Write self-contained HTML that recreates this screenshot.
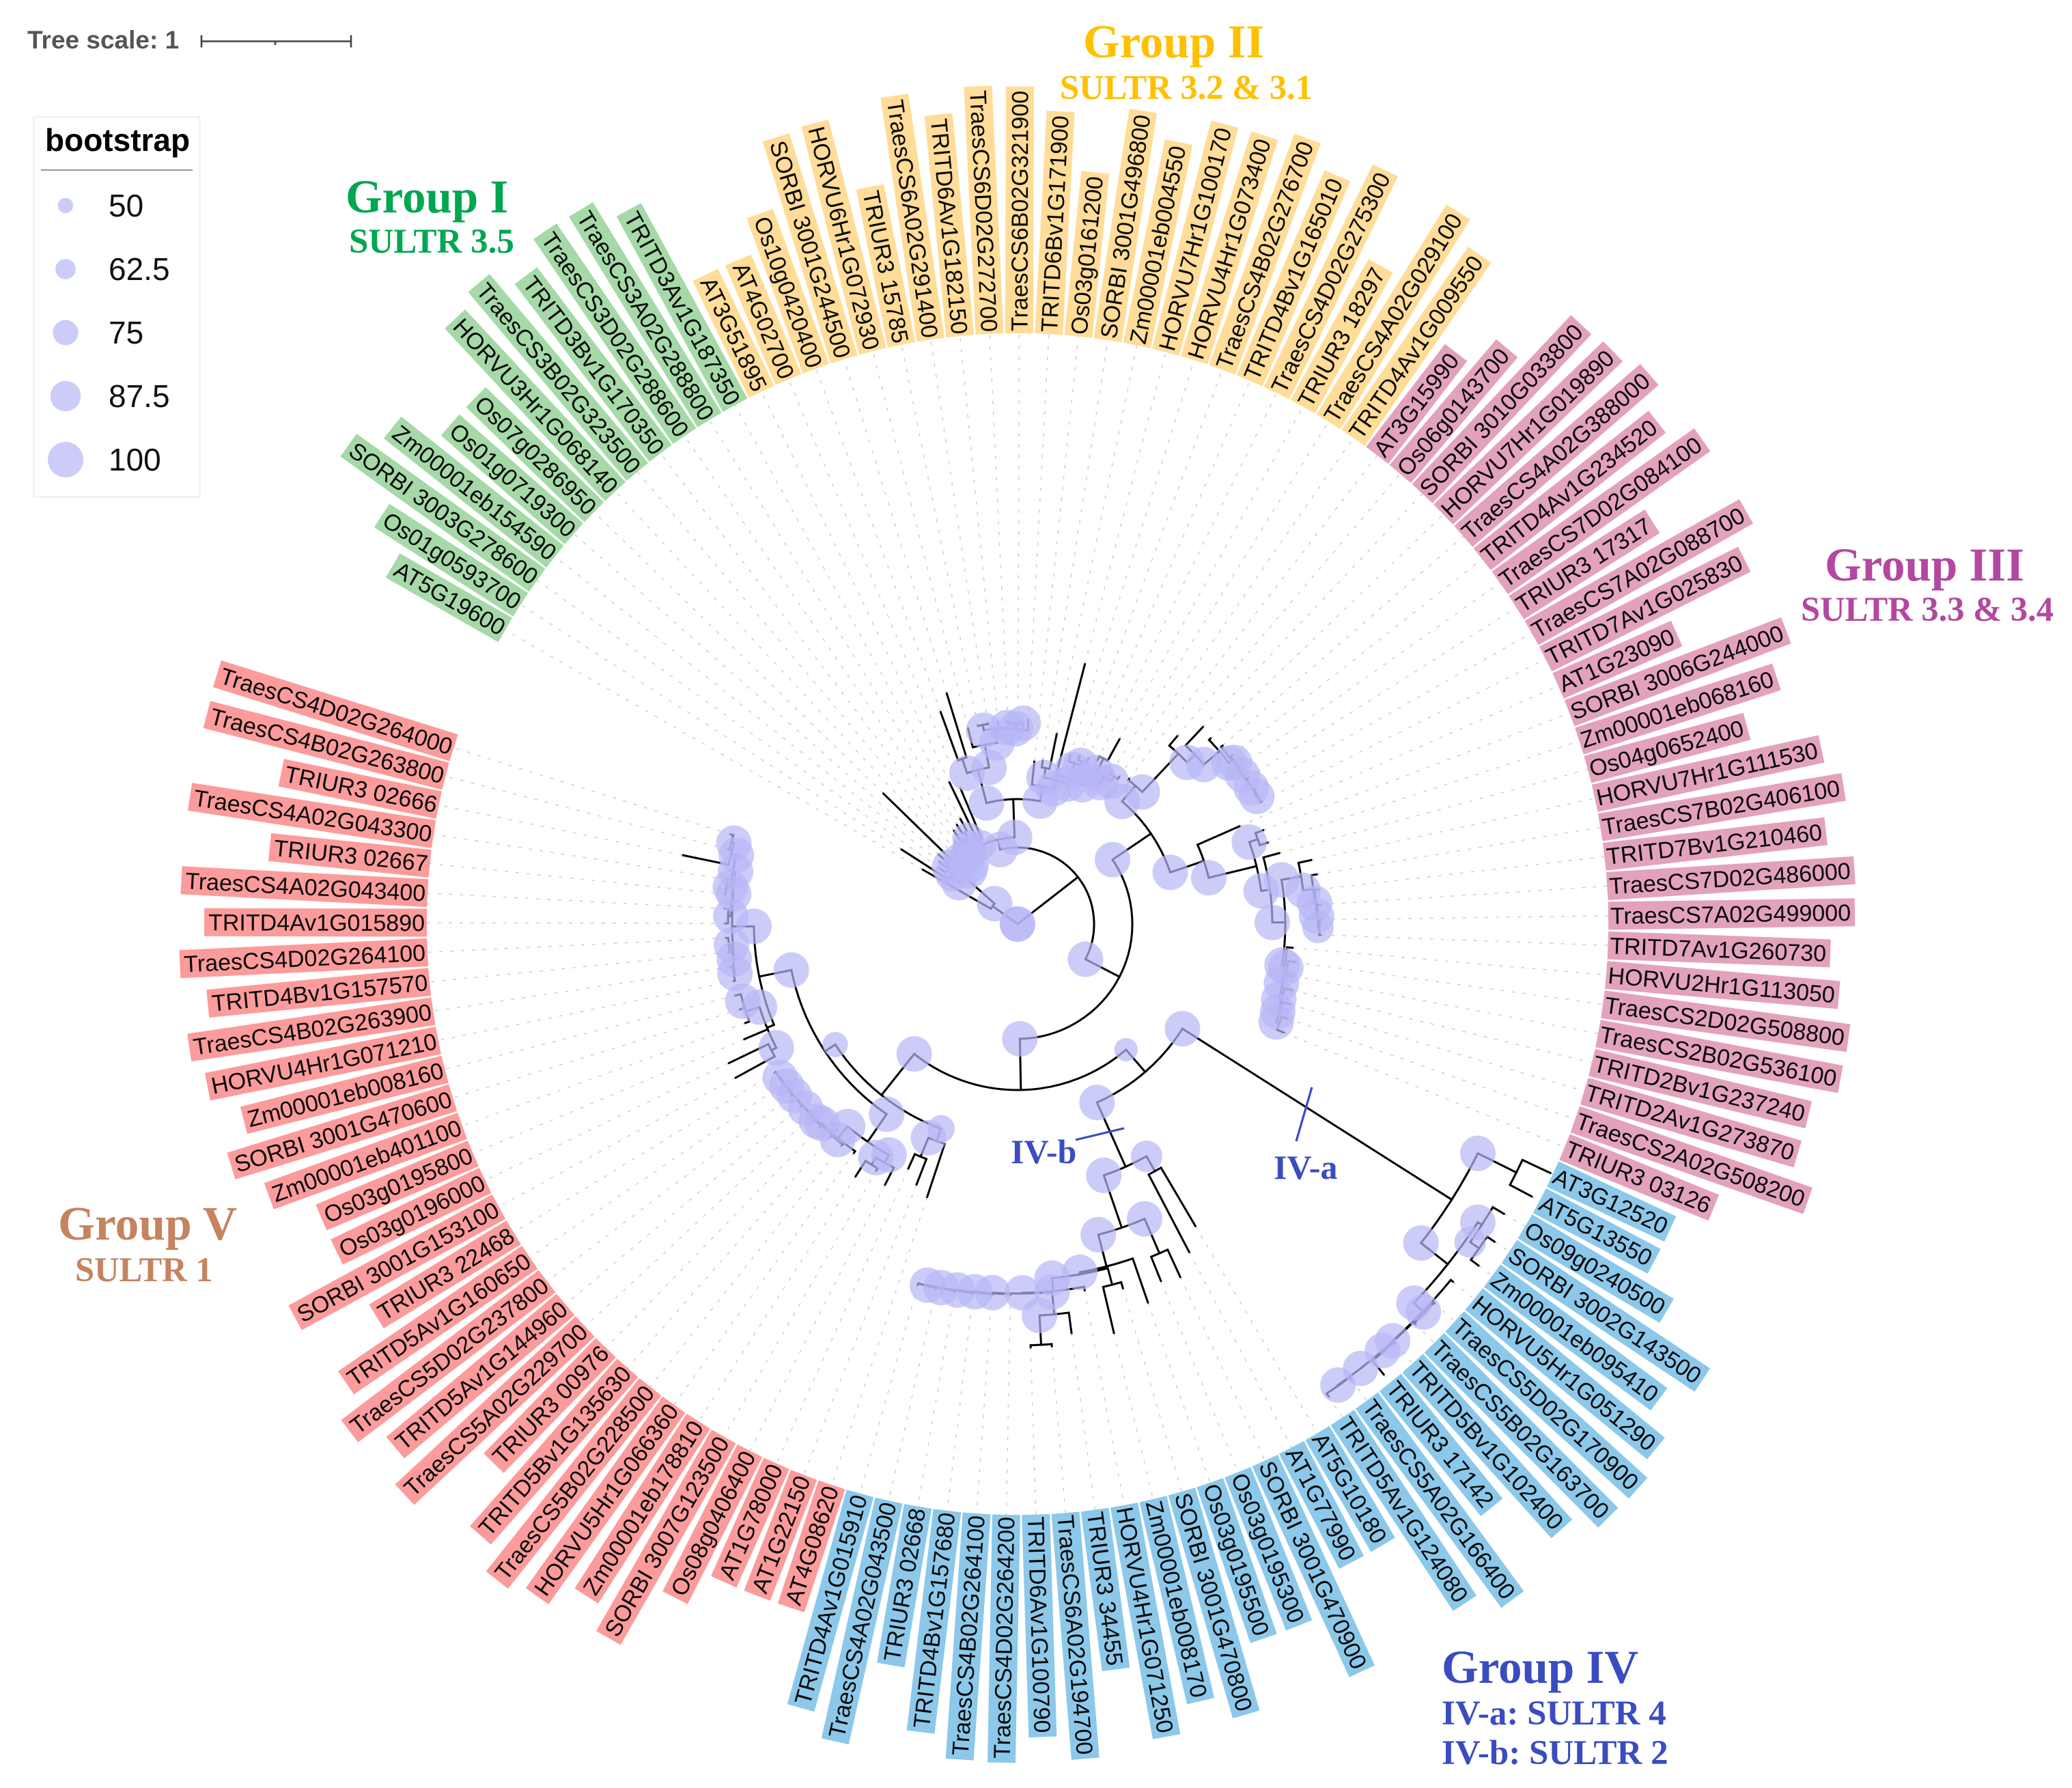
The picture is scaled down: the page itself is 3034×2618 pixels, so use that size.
<!DOCTYPE html>
<html lang="en">
<head>
<meta charset="utf-8">
<title>SULTR phylogenetic tree</title>
<style>
html,body{margin:0;padding:0;background:#fff;}
svg{display:block;}
.leaf-label{font-family:"Liberation Sans",sans-serif;font-size:34px;fill:#0a0a0a;}
.title{font-family:"Liberation Serif",serif;font-weight:bold;}
.legend-text{font-family:"Liberation Sans",sans-serif;font-size:46px;fill:#111;}
</style>
</head>
<body>
<svg id="chart" xmlns="http://www.w3.org/2000/svg" width="3034" height="2618" viewBox="0 0 3034 2618">
  <rect x="0" y="0" width="3034" height="2618" fill="#ffffff"/>
  <g id="dots"></g>
  <g id="branches"></g>
  <g id="bubbles"></g>
  <g id="labels"></g>

  <g>
    <text x="40" y="71" font-family="Liberation Sans, sans-serif" font-weight="bold" font-size="37" fill="#555">Tree scale: 1</text>
    <path d="M295 60.5H514M295 51.5V69.5M514 51.5V69.5M403 60.5V66" stroke="#444" stroke-width="2.6" fill="none"/>
  </g>

  <g>
    <rect x="49.5" y="171.5" width="243" height="556" fill="#fff" stroke="#eeeeee" stroke-width="2"/>
    <text x="66" y="221" font-family="Liberation Sans, sans-serif" font-weight="bold" font-size="46" fill="#000">bootstrap</text>
    <line x1="60" y1="249" x2="282" y2="249" stroke="#999" stroke-width="2"/>
    <g id="legend"></g>
  </g>

  <g fill="#00a650" class="title">
    <text x="506" y="311" font-size="69">Group I</text>
    <text x="511" y="370" font-size="51">SULTR 3.5</text>
  </g>
  <g fill="#ffc000" class="title">
    <text x="1586" y="84" font-size="69">Group II</text>
    <text x="1552" y="145" font-size="50.5">SULTR 3.2 &amp; 3.1</text>
  </g>
  <g fill="#b4479f" class="title">
    <text x="2672" y="850" font-size="69">Group III</text>
    <text x="2637" y="909" font-size="50.5">SULTR 3.3 &amp; 3.4</text>
  </g>
  <g fill="#3a4cc0" class="title">
    <text x="2111" y="2464" font-size="69">Group IV</text>
    <text x="2111" y="2525" font-size="51">IV-a: SULTR 4</text>
    <text x="2111" y="2583" font-size="51">IV-b: SULTR 2</text>
  </g>
  <g fill="#c5835f" class="title">
    <text x="85" y="1815" font-size="69.5">Group V</text>
    <text x="110" y="1876" font-size="50.5">SULTR 1</text>
  </g>
  <g fill="#3a4cc0" class="title">
    <line x1="1921" y1="1592" x2="1898" y2="1671" stroke="#3a4cc0" stroke-width="3.2"/>
    <line x1="1575" y1="1669" x2="1646" y2="1652" stroke="#3a4cc0" stroke-width="3.2"/>
    <text x="1865" y="1726" font-size="50">IV-a</text>
    <text x="1480" y="1703" font-size="50">IV-b</text>
  </g>
</svg>
<script>
// ---- chart data ----
const leafLabelsGroup1 = ["AT5G19600","Os01g0593700","SORBI 3003G278600","Zm00001eb154590","Os01g0719300","Os07g0286950","HORVU3Hr1G068140","TraesCS3B02G323500","TRITD3Bv1G170350","TraesCS3D02G288600","TraesCS3A02G288800","TRITD3Av1G187350"];
const leafLabelsGroup2 = ["AT3G51895","AT4G02700","Os10g0420400","SORBI 3001G244500","HORVU6Hr1G072930","TRIUR3 15785","TraesCS6A02G291400","TRITD6Av1G182150","TraesCS6D02G272700","TraesCS6B02G321900","TRITD6Bv1G171900","Os03g0161200","SORBI 3001G496800","Zm00001eb004550","HORVU7Hr1G100170","HORVU4Hr1G073400","TraesCS4B02G276700","TRITD4Bv1G165010","TraesCS4D02G275300","TRIUR3 18297","TraesCS4A02G029100","TRITD4Av1G009550"];
const leafLabelsGroup3 = ["AT3G15990","Os06g0143700","SORBI 3010G033800","HORVU7Hr1G019890","TraesCS4A02G388000","TRITD4Av1G234520","TraesCS7D02G084100","TRIUR3 17317","TraesCS7A02G088700","TRITD7Av1G025830","AT1G23090","SORBI 3006G244000","Zm00001eb068160","Os04g0652400","HORVU7Hr1G111530","TraesCS7B02G406100","TRITD7Bv1G210460","TraesCS7D02G486000","TraesCS7A02G499000","TRITD7Av1G260730","HORVU2Hr1G113050","TraesCS2D02G508800","TraesCS2B02G536100","TRITD2Bv1G237240","TRITD2Av1G273870","TraesCS2A02G508200","TRIUR3 03126"];
const leafLabelsGroup4 = ["AT3G12520","AT5G13550","Os09g0240500","SORBI 3002G143500","Zm00001eb095410","HORVU5Hr1G051290","TraesCS5D02G170900","TraesCS5B02G163700","TRITD5Bv1G102400","TRIUR3 17142","TraesCS5A02G166400","TRITD5Av1G124080","AT5G10180","AT1G77990","SORBI 3001G470900","Os03g0195300","Os03g0195500","SORBI 3001G470800","Zm00001eb008170","HORVU4Hr1G071250","TRIUR3 34455","TraesCS6A02G194700","TRITD6Av1G100790","TraesCS4D02G264200","TraesCS4B02G264100","TRITD4Bv1G157680","TRIUR3 02668","TraesCS4A02G043500","TRITD4Av1G015910"];
const leafLabelsGroup5 = ["AT4G08620","AT1G22150","AT1G78000","Os08g0406400","SORBI 3007G123500","Zm00001eb178810","HORVU5Hr1G066360","TraesCS5B02G228500","TRITD5Bv1G135630","TRIUR3 00976","TraesCS5A02G229700","TRITD5Av1G144960","TraesCS5D02G237800","TRITD5Av1G160650","TRIUR3 22468","SORBI 3001G153100","Os03g0196000","Os03g0195800","Zm00001eb401100","SORBI 3001G470600","Zm00001eb008160","HORVU4Hr1G071210","TraesCS4B02G263900","TRITD4Bv1G157570","TraesCS4D02G264100","TRITD4Av1G015890","TraesCS4A02G043400","TRIUR3 02667","TraesCS4A02G043300","TRIUR3 02666","TraesCS4B02G263800","TraesCS4D02G264000"];
const groupFills = ["#a5d9a7","#ffdc98","#e3a2bc","#8cc8ea","#fc9b9b"];
const legendValues = [50,62.5,75,87.5,100];

// Clades: a leaf is its tip depth (number); an internal node is [depth, bootstrap, ...children].
const cladeGroup1 = [45,100,160,[105,100,[120,100,202,[130,100,141,[135,100,146,154]]],[110,100,274,[125,100,[135,100,135,140],[135,100,150,[145,90,165,[155,90,170,175]]]]]]];
const cladeGroup2Base = [135,85,230,215];
const cladeGroup2Left = [233,100,[255,100,330,353],[267,100,295,[288,100,[296,100,296,297],[286,100,297,[294,100,298,[284,100,298,299]]]]]];
const cladeGroup2Right = [205,100,239,[218,100,[232,100,242,284],[225,100,393,[240,100,[250,100,258,[256,100,262,264]],[250,100,[273,100,266,309],[258,100,262,262]]]]]];
const cladeGroup3Upper = [266,100,268,[343,100,361,[359,100,396,[389,100,392,[395,100,398,[396,100,[397,100,400,400],[397,100,400,[398,100,400,400]]]]]]]];
const cladeGroup3Lower2 = [392,100,[421,100,440,[436,100,444,[438,100,444,[440,100,444,[442,90,444,444]]]]],[396,100,404,[398,100,[400,100,410,412],[402,100,414,[405,100,416,[410,100,418,421]]]]]];
const cladeGroup3Lower = [288,100,355,[360,100,[373,100,385,385],[373,100,397,cladeGroup3Lower2]]];
const cladeSultr4 = [753,100,[816,100,861,852],[803,100,[810,100,829,[826,90,839,840]],[821,100,825,[822,100,[824,100,825,826],[822,100,[824,100,826,850],[823,100,827,828]]]]]];
const cladeSultr2Tail = [541,100,[574,100,604,[617,100,620,620]],[542,100,543,[543,100,544,[544,100,545,[545,100,546,[546,100,547,548]]]]]];
const cladeSultr2 = [389,100,[414,90,513,542],[470,100,[525,100,569,563],[518,100,586,[521,100,[546,0,555,615],[540,100,545,cladeSultr2Tail]]]]];
const cladeGroup5A = [339,80,421,[369,100,409,392]];
const cladeGroup5B = [387,100,[400,100,428,[412,100,416,439]],[409,100,412,[411,100,[412,100,414,415],[412,100,[413,100,415,416],[413,100,416,[414,100,416,[415,100,416,417]]]]]]];
const cladeGroup5C = [397,0,[405,100,470,469],434,[418,100,424,[418,100,425,426]]];
const cladeGroup5D = [418,100,[420,100,[422,100,424,425],[424,100,426,427]],[420,100,[424,100,428,429],[424,100,[430,100,430,431],[432,100,500,[436,100,438,440]]]]];
const cladeGroup5 = [320,100,cladeGroup5A,[338,75,cladeGroup5B,[386,100,cladeGroup5C,cladeGroup5D]]];
const tree = [0,0,cladeGroup1,
  [112,100,
    [127,100,cladeGroup2Base,[183,100,cladeGroup2Left,cladeGroup2Right]],
    [168,100,
      [236,100,cladeGroup3Upper,cladeGroup3Lower],
      [243,100,[286,70,cladeSultr4,cladeSultr2],cladeGroup5]
    ]
  ]
];

// ---- scales ----
const cx = 1490, cy = 1353;
const startAngle = -150.15, angleStep = 2.872, labelRadius = 865;
function angleOfLeaf(i){ return startAngle + i * angleStep; }
function radiusOf(depth){ return depth; }
function polar(r, deg){ const a = deg * Math.PI / 180; return [cx + r * Math.cos(a), cy + r * Math.sin(a)]; }
function bubbleRadius(b){ return 11.2 + (b - 50) * 0.296; }

const NS = "http://www.w3.org/2000/svg";
const allLabels = [leafLabelsGroup1, leafLabelsGroup2, leafLabelsGroup3, leafLabelsGroup4, leafLabelsGroup5];
const dotsLayer = document.getElementById("dots");
const branchLayer = document.getElementById("branches");
const bubbleLayer = document.getElementById("bubbles");
const labelLayer = document.getElementById("labels");
const legendLayer = document.getElementById("legend");
let leafCounter = 0;

function addRadial(fromDepth, toDepth, deg){
  const a = polar(radiusOf(fromDepth), deg), b = polar(radiusOf(toDepth), deg);
  const line = document.createElementNS(NS, "line");
  line.setAttribute("x1", a[0]); line.setAttribute("y1", a[1]);
  line.setAttribute("x2", b[0]); line.setAttribute("y2", b[1]);
  line.setAttribute("stroke", "#000"); line.setAttribute("stroke-width", "3"); line.setAttribute("stroke-linecap", "square");
  
  
  branchLayer.appendChild(line);
}
function addArc(depth, fromDeg, toDeg){
  const r = radiusOf(depth), a = polar(r, fromDeg), b = polar(r, toDeg);
  const path = document.createElementNS(NS, "path");
  path.setAttribute("d", "M" + a[0] + " " + a[1] + "A" + r + " " + r + " 0 " + (toDeg - fromDeg > 180 ? 1 : 0) + " 1 " + b[0] + " " + b[1]);
  path.setAttribute("fill", "none"); path.setAttribute("stroke", "#000"); path.setAttribute("stroke-width", "3");
  
  
  branchLayer.appendChild(path);
}
function addBubble(depth, deg, b){
  if (!b) return;
  const p = polar(radiusOf(depth), deg);
  const c = document.createElementNS(NS, "circle");
  c.setAttribute("cx", p[0]); c.setAttribute("cy", p[1]); c.setAttribute("r", bubbleRadius(b));
  c.setAttribute("fill", "rgb(182,182,247)"); c.setAttribute("fill-opacity", "0.7");
  
  
  bubbleLayer.appendChild(c);
}
function addGuide(tip, deg){
  const a = polar(radiusOf(tip), deg), b = polar(labelRadius, deg);
  const line = document.createElementNS(NS, "line");
  line.setAttribute("x1", a[0]); line.setAttribute("y1", a[1]);
  line.setAttribute("x2", b[0]); line.setAttribute("y2", b[1]);
  line.setAttribute("stroke", "#cbcbcb"); line.setAttribute("stroke-width", "1.4"); line.setAttribute("stroke-dasharray", "5 11");
  
  
  dotsLayer.appendChild(line);
}
// returns node angle
function walk(node, parentDepth){
  if (typeof node === "number"){
    const deg = angleOfLeaf(leafCounter++);
    addRadial(parentDepth, node, deg);
    addGuide(node, deg);
    return deg;
  }
  const depth = node[0], boot = node[1];
  const kids = node.slice(2).map(function(k){ return walk(k, depth); });
  const first = kids[0], last = kids[kids.length - 1];
  const deg = (first + last) / 2;
  if (depth > 0){
    addArc(depth, first, last);
    addRadial(parentDepth, depth, deg);
    addBubble(parentDepth, deg, boot);
  }
  return deg;
}
walk(tree, 0);

// ---- leaf labels ----
let labelIndex = 0;
allLabels.forEach(function(list, g){
  list.forEach(function(name){
    const deg = angleOfLeaf(labelIndex++);
    const norm = ((deg % 360) + 360) % 360;
    const flip = norm > 90 && norm < 270;
    const group = document.createElementNS(NS, "g");
    group.setAttribute("transform", "translate(" + cx + " " + cy + ") rotate(" + (flip ? deg + 180 : deg) + ")");
    
    
    const rect = document.createElementNS(NS, "rect");
    
    
    const text = document.createElementNS(NS, "text");
    text.setAttribute("class", "leaf-label");
    text.setAttribute("x", flip ? -(labelRadius + 3) : labelRadius + 3);
    text.setAttribute("y", "12");
    text.setAttribute("text-anchor", flip ? "end" : "start");
    text.textContent = name;
    
    
    group.appendChild(rect);
    group.appendChild(text);
    labelLayer.appendChild(group);
    const len = text.getComputedTextLength() + 9;
    rect.setAttribute("x", flip ? -(labelRadius + len) : labelRadius);
    rect.setAttribute("y", "-20.5");
    rect.setAttribute("width", len);
    rect.setAttribute("height", "41");
    rect.setAttribute("fill", groupFills[g]);
  });
});

// ---- legend ----
legendValues.forEach(function(v, i){
  const y = 301 + i * 93;
  const c = document.createElementNS(NS, "circle");
  c.setAttribute("cx", 96); c.setAttribute("cy", y); c.setAttribute("r", bubbleRadius(v));
  c.setAttribute("fill", "rgb(182,182,247)"); c.setAttribute("fill-opacity", "0.7");
  
  
  legendLayer.appendChild(c);
  const t = document.createElementNS(NS, "text");
  t.setAttribute("class", "legend-text");
  t.setAttribute("x", 159); t.setAttribute("y", y + 16);
  t.textContent = String(v);
  
  
  legendLayer.appendChild(t);
});
</script>
</body>
</html>
